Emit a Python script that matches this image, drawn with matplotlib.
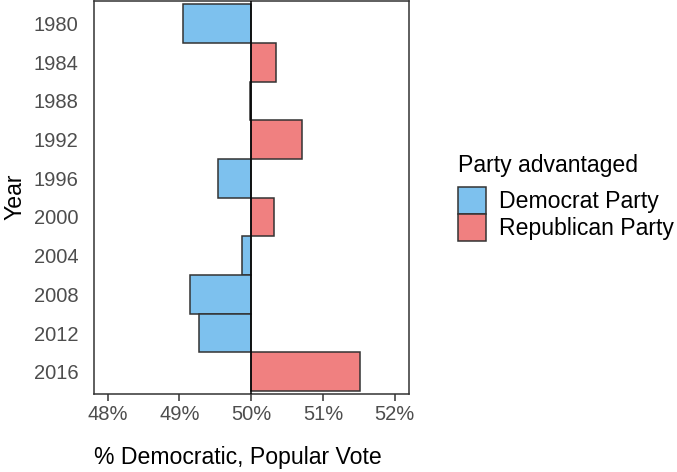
import matplotlib
matplotlib.use("Agg")
import matplotlib.pyplot as plt
from matplotlib.patches import Patch

plt.rcParams['font.family'] = ['Liberation Sans', 'DejaVu Sans']

years = ["1980", "1984", "1988", "1992", "1996", "2000", "2004", "2008", "2012", "2016"]
dem_share = [49.05, 50.35, 49.98, 50.70, 49.54, 50.31, 49.87, 49.15, 49.27, 51.52]
x_ticks = [48, 49, 50, 51, 52]
x_tick_labels = ["48%", "49%", "50%", "51%", "52%"]
party_names = ["Democrat Party", "Republican Party"]
party_colors = ["#7DC1EE", "#F08080"]

W, H = 677, 472
fig = plt.figure(figsize=(W / 100, H / 100), dpi=100)
ax = fig.add_axes([94 / W, (H - 393.5) / H, (408.5 - 94) / W, (392.5) / H])

edge = "#333333"
pos = list(range(len(years)))
colors = [party_colors[0] if v < 50 else party_colors[1] for v in dem_share]
ax.barh(pos, [v - 50 for v in dem_share], left=50, height=1.0,
        color=colors, edgecolor=edge, linewidth=1.1, zorder=2)
ax.axvline(50, color="black", linewidth=1.1, zorder=3)

ax.set_xlim(47.81, 52.19)
ax.set_ylim(9.56, -0.58)
ax.set_xticks(x_ticks)
ax.set_xticklabels(x_tick_labels)
ax.set_yticks(pos)
ax.set_yticklabels(years)

for s in ax.spines.values():
    s.set_color(edge)
    s.set_linewidth(1.1)
ax.tick_params(axis='x', length=5, width=1.1, color=edge, labelsize=14.5,
               labelcolor="#4D4D4D", pad=3.5)
ax.tick_params(axis='y', length=0, labelsize=14.5, labelcolor="#4D4D4D", pad=11)

ax.set_xlabel("% Democratic, Popular Vote", fontsize=16.6, color="black")
ax.xaxis.set_label_coords(0.458, -0.133)
ax.set_ylabel("Year", fontsize=16.6, color="black", labelpad=5)

# legend title placed separately to get the gap seen in the reference
fig.text(458 / W, (H - 172) / H, "Party advantaged", fontsize=16.6,
         ha="left", va="baseline")
handles = [Patch(facecolor=c, edgecolor=edge, linewidth=1.1) for c in party_colors]
leg = fig.legend(handles, party_names,
                 loc="upper left", bbox_to_anchor=(458 / W, (H - 187) / H),
                 frameon=False, fontsize=16.6,
                 handlelength=1.22, handleheight=1.43, handletextpad=0.55,
                 labelspacing=0.0, borderaxespad=0, borderpad=0)

fig.savefig("out.png", dpi=100)
